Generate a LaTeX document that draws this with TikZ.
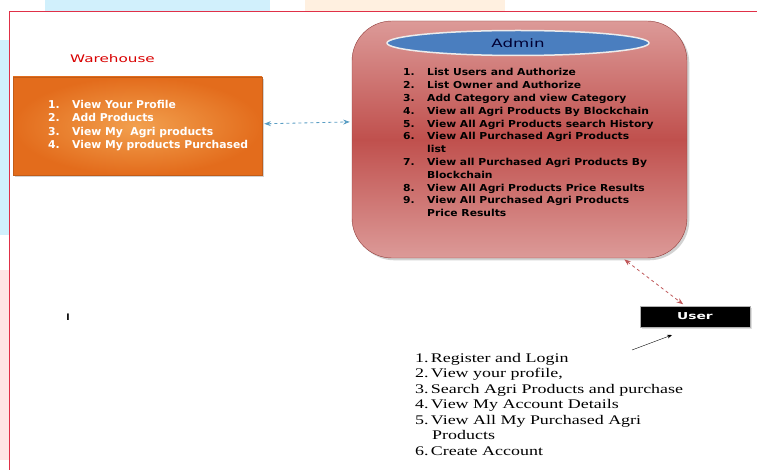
\documentclass[tikz,border=0pt]{standalone}
\usepackage{fontspec}
\setmainfont{Liberation Serif}
\setsansfont{DejaVu Sans}
\newfontfamily\userfont{Liberation Serif}[FakeStretch=1.36]
\newfontfamily\widesans{DejaVu Sans}[FakeStretch=1.12]
\newfontfamily\widersans{DejaVu Sans}[FakeStretch=1.45]
\usetikzlibrary{shapes.geometric,shadows,positioning,arrows.meta}
\definecolor{whorange}{HTML}{E36C1C}
\definecolor{whlight}{HTML}{F2A04E}
\definecolor{admred}{HTML}{C0504D}
\definecolor{admpink}{HTML}{DC9A98}
\definecolor{admblue}{HTML}{4A7EBF}
\definecolor{linkblue}{HTML}{5A9EC4}
\definecolor{linkred}{HTML}{C0585A}
\definecolor{framered}{HTML}{E03048}
\newcommand{\numbox}[1]{\makebox[24pt][l]{#1}}

\begin{document}
\begin{tikzpicture}[x=1pt,y=-1pt, >=Stealth]
	\tikzstyle{warehouse} = [rectangle, minimum width=249pt, minimum height=98pt, inner color=whlight, outer color=whorange, draw=whorange!85!black, drop shadow={opacity=0.35}];
	\tikzstyle{admin} = [rectangle, rounded corners=40pt, minimum width=335pt, minimum height=237pt, top color=admpink, bottom color=admpink, middle color=admred, draw=admred!75!black, drop shadow={opacity=0.35}];
	\tikzstyle{adminHead} = [ellipse, minimum width=262pt, minimum height=25pt, fill=admblue, draw=white!85!gray, line width=1.5pt, font={\widersans\fontsize{11.5}{13}\selectfont}, text=black!80!blue];
	\tikzstyle{user} = [rectangle, minimum width=110pt, minimum height=21pt, fill=black, draw=gray!60, line width=1pt, text=white, font={\widersans\bfseries\fontsize{9.5}{11}\selectfont}, drop shadow={opacity=0.25}];
	\tikzstyle{listText} = [align=left, inner sep=0pt, anchor=north west];
	\tikzstyle{dashEdge} = [dashed, thick, <->, shorten <=2pt, shorten >=2pt];

	% page background
	\useasboundingbox (0,0) rectangle (757,470);
	\fill[white] (0,0) rectangle (757,470);
	\fill[cyan!18] (45,0) rectangle (270,11);
	\fill[orange!12] (305,0) rectangle (505,11);
	\fill[cyan!18] (0,40) rectangle (9,235);
	\fill[red!10] (0,270) rectangle (9,460);
	\draw[framered, line width=0.8pt] (757,11) -- (9,11) -- (9,470);

	% warehouse
	\node[text=red!85!black, font={\widersans\fontsize{10.5}{12}\selectfont}] (whlabel) at (112.5,59) {Warehouse};
	\node[warehouse] (wh) at (137.5,126) {};
	\node[listText, text=white, font={\sffamily\bfseries\fontsize{10.8}{13.3}\selectfont}] (whlist) at (48,100) {%
		\numbox{1.}View Your Profile\\
		\numbox{2.}Add Products\\
		\numbox{3.}View My\ \ Agri products\\
		\numbox{4.}View My products Purchased};

	% admin
	\node[admin] (adm) at (519.5,139.5) {};
	\node[adminHead] (admhead) at (518,43) {Admin};
	\node[listText, text=black, font={\widesans\bfseries\fontsize{9.6}{12.8}\selectfont}] (admlist) at (403,68.5) {%
		\numbox{1.}List Users and Authorize\\
		\numbox{2.}List Owner and Authorize\\
		\numbox{3.}Add Category and view Category\\
		\numbox{4.}View all Agri Products By Blockchain\\
		\numbox{5.}View All Agri Products search History\\
		\numbox{6.}View All Purchased Agri Products\\
		\numbox{}list\\
		\numbox{7.}View all Purchased Agri Products By\\
		\numbox{}Blockchain\\
		\numbox{8.}View All Agri Products Price Results\\
		\numbox{9.}View All Purchased Agri Products\\
		\numbox{}Price Results};

	% user
	\node[user] (usr) at (695,316.5) {User};
	\coordinate (usrtail) at (632,350);
	\node[listText, text=black, font={\userfont\fontsize{13.2}{15.5}\selectfont}] (usrlist) at (415,353) {%
		1.\,Register and Login\\
		2.\,View your profile,\\
		3.\,Search Agri Products and purchase\\
		4.\,View My Account Details\\
		5.\,View All My Purchased Agri\\
		\hspace{17pt}Products\\
		6.\,Create Account};

	% I
	\node[font={\sffamily\bfseries\fontsize{9}{11}\selectfont}] (imark) at (68,317) {I};

	% connectors
	\draw[dashEdge, linkblue] (wh.1) -- (adm.174);
	\draw[dashEdge, linkred] (adm.-49) -- (usr.133);
	\draw[->, black] (usrtail) -- (672,335);
\end{tikzpicture}
\end{document}
